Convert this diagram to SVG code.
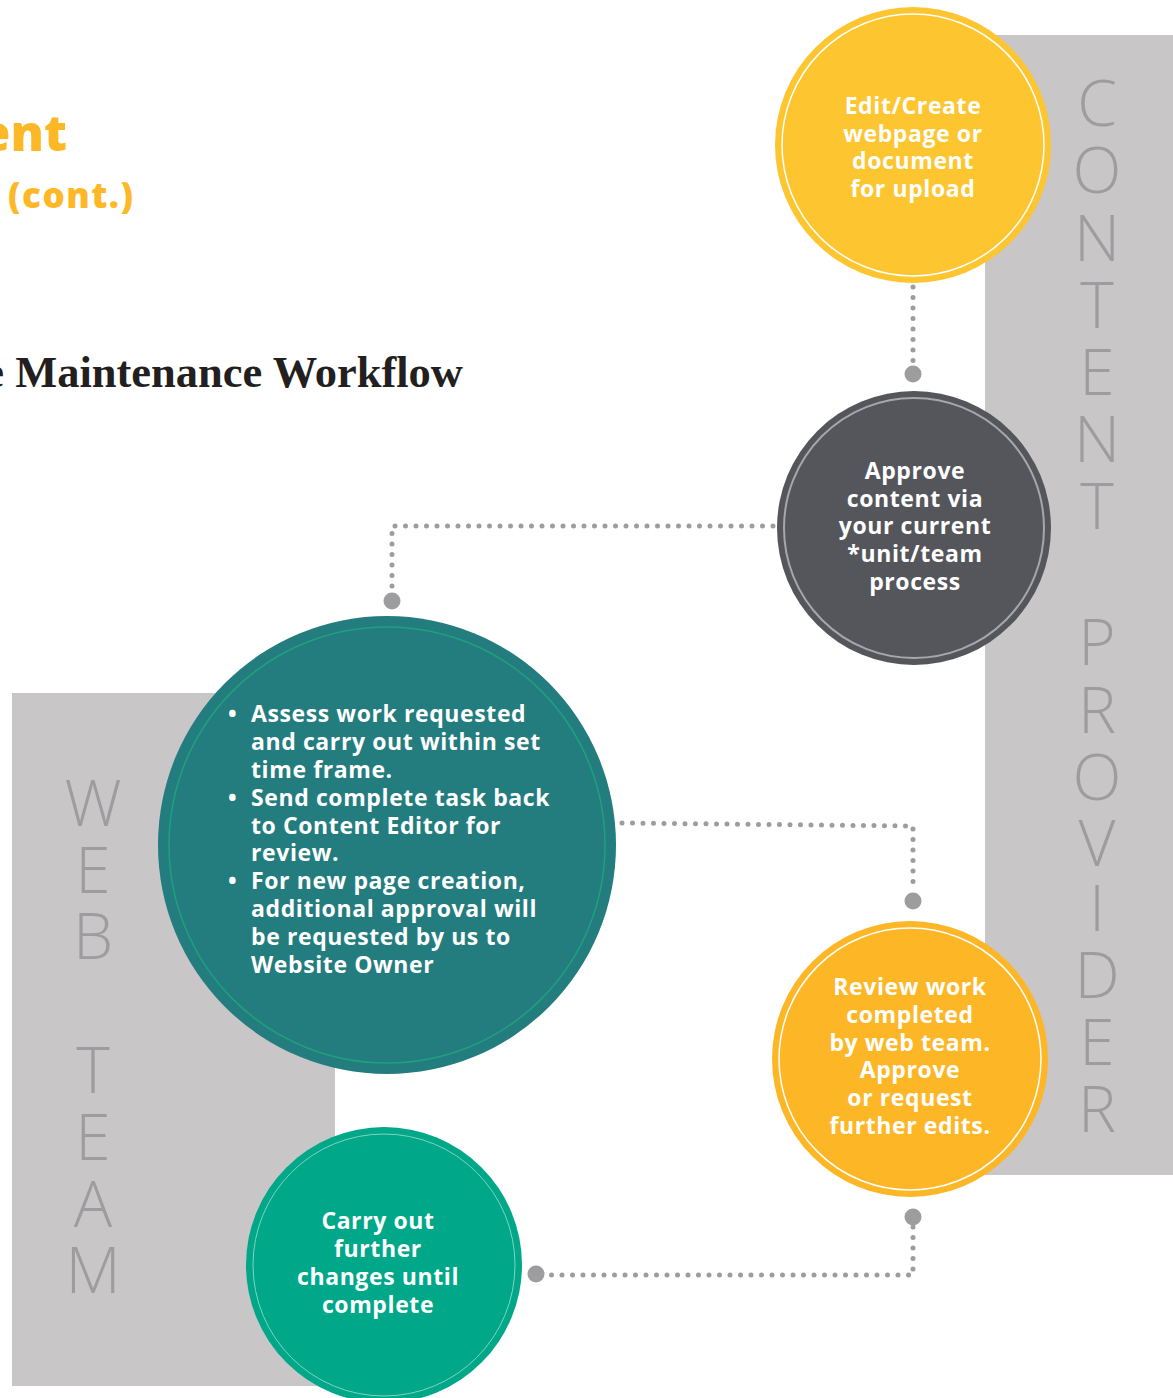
<svg xmlns="http://www.w3.org/2000/svg" width="1173" height="1398" viewBox="0 0 1173 1398">
<style>
.lane{fill:#c8c6c7}
.lbl{font-family:"Open Sans","Liberation Sans",sans-serif;font-weight:300;font-size:64px;fill:#9d9c9e;text-anchor:middle}
.t{font-family:"Open Sans","Liberation Sans",sans-serif;font-weight:700;font-size:23px;letter-spacing:0.6px;fill:#ffffff;text-anchor:middle}
.tl{font-family:"Open Sans","Liberation Sans",sans-serif;font-weight:700;font-size:23px;letter-spacing:0.6px;fill:#ffffff}
.dot{fill:none;stroke:#9d9c9e;stroke-width:5;stroke-linecap:round;stroke-dasharray:0 10.5}
.end{fill:#9d9c9e}
</style>
<rect width="1173" height="1398" fill="#ffffff"/>
<g id="titles">
<text x="67" y="151" text-anchor="end" font-family="Open Sans, Liberation Sans, sans-serif" font-weight="800" font-size="50" fill="#fdb827">ent</text>
<text x="8" y="208" font-family="Open Sans, Liberation Sans, sans-serif" font-weight="800" font-size="35" letter-spacing="1.5" fill="#fdb827">(cont.)</text>
<text x="463" y="387" text-anchor="end" font-family="Liberation Serif, serif" font-weight="700" font-size="44.5" fill="#231f20">e Maintenance Workflow</text>
</g>
<g id="lane-content-provider">
<rect class="lane" x="985" y="35" width="188" height="1140"/>
<text class="lbl" x="1097" y="126">C</text>
<text class="lbl" x="1097" y="193">O</text>
<text class="lbl" x="1097" y="261">N</text>
<text class="lbl" x="1097" y="328">T</text>
<text class="lbl" x="1097" y="395">E</text>
<text class="lbl" x="1097" y="462">N</text>
<text class="lbl" x="1097" y="529">T</text>
<text class="lbl" x="1097" y="665">P</text>
<text class="lbl" x="1097" y="733">R</text>
<text class="lbl" x="1097" y="800">O</text>
<text class="lbl" x="1097" y="866">V</text>
<text class="lbl" x="1097" y="931">I</text>
<text class="lbl" x="1097" y="998">D</text>
<text class="lbl" x="1097" y="1065">E</text>
<text class="lbl" x="1097" y="1132">R</text>
</g>
<g id="lane-web-team">
<rect class="lane" x="12" y="693" width="323" height="693"/>
<text class="lbl" x="93" y="826">W</text>
<text class="lbl" x="93" y="893">E</text>
<text class="lbl" x="93" y="959">B</text>
<text class="lbl" x="93" y="1093">T</text>
<text class="lbl" x="93" y="1160">E</text>
<text class="lbl" x="93" y="1227">A</text>
<text class="lbl" x="93" y="1293">M</text>
</g>
<g id="connectors">
<path class="dot" d="M913 287 V364"/>
<circle class="end" cx="913" cy="374" r="8.5"/>
<path class="dot" d="M773 526 H392 V591"/>
<circle class="end" cx="392" cy="601" r="8.5"/>
<path class="dot" d="M622 823 L913 826 V888"/>
<circle class="end" cx="913" cy="901" r="8.5"/>
<path class="dot" d="M913 1227 V1275 H546"/>
<circle class="end" cx="913" cy="1217" r="8.5"/>
<circle class="end" cx="536" cy="1274" r="8.5"/>
</g>
<g id="node-edit">
<circle cx="913" cy="145" r="138" fill="#fdc530"/>
<circle cx="913" cy="145" r="131" fill="none" stroke="#ffffff" stroke-width="1.5"/>
<text class="t" x="913" y="114">Edit/Create</text>
<text class="t" x="913" y="142">webpage or</text>
<text class="t" x="913" y="169">document</text>
<text class="t" x="913" y="197">for upload</text>
</g>
<g id="node-approve">
<circle cx="914" cy="528" r="137" fill="#55565b"/>
<circle cx="914" cy="528" r="130" fill="none" stroke="#a7a7a9" stroke-width="2"/>
<text class="t" x="915" y="479">Approve</text>
<text class="t" x="915" y="507">content via</text>
<text class="t" x="915" y="534">your current</text>
<text class="t" x="915" y="562">*unit/team</text>
<text class="t" x="915" y="590">process</text>
</g>
<g id="node-assess">
<circle cx="387" cy="845" r="229" fill="#237c7e"/>
<circle cx="387" cy="845" r="218" fill="none" stroke="#20a07f" stroke-width="1.5"/>
<g class="tl">
<text x="228" y="722">•</text>
<text x="251" y="722">Assess work requested</text>
<text x="251" y="750">and carry out within set</text>
<text x="251" y="778">time frame.</text>
<text x="228" y="806">•</text>
<text x="251" y="806">Send complete task back</text>
<text x="251" y="834">to Content Editor for</text>
<text x="251" y="861">review.</text>
<text x="228" y="889">•</text>
<text x="251" y="889">For new page creation,</text>
<text x="251" y="917">additional approval will</text>
<text x="251" y="945">be requested by us to</text>
<text x="251" y="973">Website Owner</text>
</g>
</g>
<g id="node-review">
<circle cx="910" cy="1059" r="138" fill="#fdb626"/>
<circle cx="910" cy="1059" r="131" fill="none" stroke="#ffffff" stroke-width="1.5"/>
<text class="t" x="910" y="995">Review work</text>
<text class="t" x="910" y="1023">completed</text>
<text class="t" x="910" y="1051">by web team.</text>
<text class="t" x="910" y="1078">Approve</text>
<text class="t" x="910" y="1106">or request</text>
<text class="t" x="910" y="1134">further edits.</text>
</g>
<g id="node-carry">
<circle cx="384" cy="1265" r="138" fill="#00a789"/>
<circle cx="384" cy="1265" r="131" fill="none" stroke="#7fd3c2" stroke-width="1"/>
<text class="t" x="378" y="1229">Carry out</text>
<text class="t" x="378" y="1257">further</text>
<text class="t" x="378" y="1285">changes until</text>
<text class="t" x="378" y="1313">complete</text>
</g>
</svg>
